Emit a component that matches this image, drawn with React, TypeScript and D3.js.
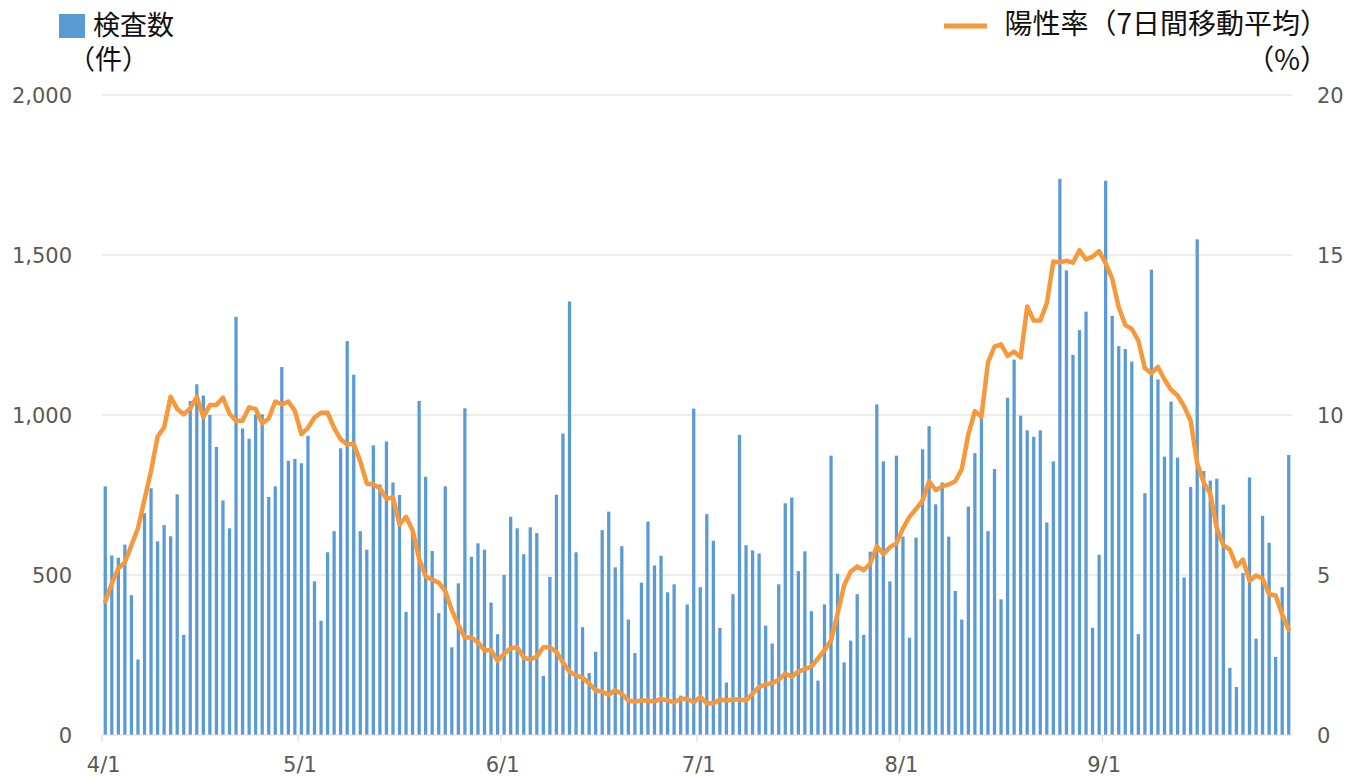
import React, { useEffect, useRef } from 'react';
import * as d3 from 'd3';

// 検査数（件） 4/1 〜 9/29
const testCounts = [
  777, 561, 554, 595, 437, 236, 693, 771, 605, 656, 621, 752, 313, 1044, 1096, 1061, 1000, 900,
  733, 646, 1307, 958, 926, 1002, 1002, 744, 777, 1150, 857, 863, 849, 935, 480, 357, 571, 637,
  896, 1231, 1126, 637, 579, 905, 783, 917, 789, 750, 385, 630, 1044, 807, 575, 381, 777, 274, 474,
  1021, 557, 599, 579, 414, 315, 500, 682, 646, 565, 649, 631, 185, 494, 751, 942, 1355, 571,
  337, 194, 260, 640, 698, 524, 590, 361, 256, 476, 667, 530, 560, 446, 471, 123, 408, 1020,
  462, 690, 607, 335, 164, 440, 938, 593, 577, 567, 342, 286, 471, 724, 742, 512, 574, 387, 170,
  408, 873, 504, 227, 295, 440, 313, 573, 1033, 855, 480, 873, 620, 304, 617, 893, 965, 721,
  789, 620, 450, 361, 714, 881, 1020, 637, 831, 424, 1054, 1173, 998, 952, 932, 952, 664, 855, 1738,
  1452, 1188, 1265, 1323, 335, 563, 1732, 1310, 1215, 1206, 1167, 315, 756, 1454, 1111, 870, 1042, 867,
  492, 775, 1549, 825, 795, 801, 720, 210, 150, 506, 805, 301, 685, 601, 244, 462, 875,
];

// 陽性率（7日間移動平均, %）
const positiveRate = [
  4.17, 4.74, 5.21, 5.39, 5.93, 6.46, 7.36, 8.25, 9.32, 9.62, 10.57, 10.19, 10.02, 10.21, 10.57, 9.94, 10.31, 10.31,
  10.54, 10.04, 9.82, 9.82, 10.24, 10.19, 9.74, 9.89, 10.42, 10.33, 10.42, 10.13, 9.4, 9.6, 9.92, 10.07, 10.07, 9.6,
  9.24, 9.08, 9.1, 8.55, 7.86, 7.83, 7.71, 7.38, 7.42, 6.58, 6.82, 6.4, 5.51, 4.95, 4.86, 4.76, 4.5, 3.9, 3.43,
  3.05, 3.05, 2.89, 2.65, 2.65, 2.32, 2.54, 2.71, 2.74, 2.42, 2.36, 2.45, 2.74, 2.74, 2.6, 2.26, 1.98, 1.86,
  1.79, 1.61, 1.4, 1.35, 1.26, 1.4, 1.29, 1.08, 1.05, 1.08, 1.08, 1.05, 1.13, 1.08, 1.02, 1.13, 1.13, 1.02,
  1.19, 0.99, 0.99, 1.11, 1.08, 1.11, 1.11, 1.08, 1.29, 1.5, 1.58, 1.62, 1.73, 1.92, 1.82, 1.98, 2.06, 2.14, 2.39,
  2.65, 2.95, 3.79, 4.68, 5.1, 5.27, 5.15, 5.36, 5.9, 5.65, 5.87, 5.99, 6.46, 6.82, 7.06, 7.33, 7.93, 7.65,
  7.77, 7.83, 7.93, 8.31, 9.4, 10.12, 9.94, 11.64, 12.14, 12.21, 11.85, 11.98, 11.8, 13.39, 12.95, 12.95, 13.49, 14.8, 14.77,
  14.82, 14.76, 15.15, 14.86, 14.95, 15.12, 14.74, 14.26, 13.37, 12.81, 12.69, 12.32, 11.46, 11.31, 11.5, 11.11, 10.79, 10.61,
  10.27, 9.82, 8.49, 7.89, 7.54, 6.46, 5.93, 5.79, 5.27, 5.48, 4.82, 4.98, 4.89, 4.4, 4.36, 3.76, 3.29,
];

const days = d3.timeDay.range(new Date(2020, 3, 1), new Date(2020, 8, 30));
const countTicks = [0, 500, 1000, 1500, 2000];
const rateTicks = [0, 5, 10, 15, 20];

const W = 1362;
const H = 778;
const TICK_FONT = '"DejaVu Sans", Verdana, sans-serif';
const CJK_FONT = '"Noto Sans CJK JP", "Noto Sans", sans-serif';

function Chart() {
  const svgRef = useRef<SVGSVGElement>(null);

  useEffect(() => {
    if (!svgRef.current) return;
    const svg = d3.select(svgRef.current);
    svg.selectAll('*').remove();

    const x = d3.scaleBand<number>()
      .domain(days.map((_, i) => i))
      .range([102, 1292])
      .paddingInner(0.5)
      .paddingOuter(0.25);
    const yL = d3.scaleLinear().domain([0, 2000]).range([735, 95]);
    const yR = d3.scaleLinear().domain([0, 20]).range([735, 95]);
    const cx = (i: number) => (x(i) as number) + x.bandwidth() / 2;

    // gridlines
    svg.append('g')
      .selectAll('line')
      .data(countTicks.slice(1))
      .join('line')
      .attr('x1', 102).attr('x2', 1292)
      .attr('y1', d => yL(d)).attr('y2', d => yL(d))
      .attr('stroke', '#d9d9d9').attr('stroke-width', 1);

    // bars
    svg.append('g')
      .selectAll('rect')
      .data(testCounts)
      .join('rect')
      .attr('x', (_, i) => x(i) as number)
      .attr('width', x.bandwidth())
      .attr('y', d => yL(d))
      .attr('height', d => yL(0) - yL(d))
      .attr('fill', '#5b9bd5');

    // x axis baseline + month ticks
    const monthIdx = days.map((d, i) => (d.getDate() === 1 ? i : -1)).filter(i => i >= 0);
    const step = x.step();
    svg.append('line')
      .attr('x1', 102).attr('x2', 1292)
      .attr('y1', yL(0)).attr('y2', yL(0))
      .attr('stroke', '#d9d9d9').attr('stroke-width', 1);
    svg.append('g')
      .selectAll('line')
      .data(monthIdx)
      .join('line')
      .attr('x1', i => cx(i) - step / 2).attr('x2', i => cx(i) - step / 2)
      .attr('y1', yL(0)).attr('y2', yL(0) + 7)
      .attr('stroke', '#d9d9d9').attr('stroke-width', 1);
    svg.append('g')
      .selectAll('text')
      .data(monthIdx)
      .join('text')
      .attr('x', i => cx(i) - 1.5)
      .attr('y', 772)
      .attr('text-anchor', 'middle')
      .attr('font-family', TICK_FONT)
      .attr('font-size', 21)
      .attr('fill', '#595959')
      .text(i => d3.timeFormat('%-m/%-d')(days[i]));

    // line
    const line = d3.line<number>()
      .x((_, i) => cx(i))
      .y(d => yR(d));
    svg.append('path')
      .datum(positiveRate)
      .attr('d', line)
      .attr('fill', 'none')
      .attr('stroke', '#f7983a')
      .attr('stroke-width', 4.5)
      .attr('stroke-linejoin', 'round')
      .attr('stroke-linecap', 'round');

    // left ticks
    svg.append('g')
      .selectAll('text')
      .data(countTicks)
      .join('text')
      .attr('x', 72)
      .attr('y', d => yL(d))
      .attr('dy', '0.36em')
      .attr('text-anchor', 'end')
      .attr('font-family', TICK_FONT)
      .attr('font-size', 21)
      .attr('fill', '#595959')
      .text(d => d3.format(',')(d));

    // right ticks
    svg.append('g')
      .selectAll('text')
      .data(rateTicks)
      .join('text')
      .attr('x', 1317)
      .attr('y', d => yR(d))
      .attr('dy', '0.36em')
      .attr('text-anchor', 'start')
      .attr('font-family', TICK_FONT)
      .attr('font-size', 21)
      .attr('fill', '#595959')
      .text(d => String(d));

    // legend left
    svg.append('rect')
      .attr('x', 59).attr('y', 14).attr('width', 26).attr('height', 24)
      .attr('fill', '#5b9bd5');
    svg.append('text')
      .attr('x', 93).attr('y', 35)
      .attr('font-family', CJK_FONT).attr('font-size', 27).attr('fill', '#111')
      .text('検査数');
    svg.append('text')
      .attr('x', 68).attr('y', 69)
      .attr('font-family', CJK_FONT).attr('font-size', 27).attr('fill', '#111')
      .text('（件）');

    // legend right
    svg.append('line')
      .attr('x1', 944).attr('x2', 987).attr('y1', 26).attr('y2', 26)
      .attr('stroke', '#f7983a').attr('stroke-width', 5);
    svg.append('text')
      .attr('x', 1328).attr('y', 34)
      .attr('text-anchor', 'end')
      .attr('font-family', CJK_FONT).attr('font-size', 28).attr('fill', '#111')
      .text('陽性率（7日間移動平均）');
    svg.append('text')
      .attr('x', 1328).attr('y', 70)
      .attr('text-anchor', 'end')
      .attr('font-family', CJK_FONT).attr('font-size', 28).attr('fill', '#111')
      .text('（%）');

    return () => { svg.selectAll('*').remove(); };
  }, []);

  return (
    <svg
      ref={svgRef}
      width={W}
      height={H}
      style={{ position: 'absolute', left: 0, top: 0, display: 'block', background: '#fff' }}
    />
  );
}

export default function App() {
  return <Chart />;
}
